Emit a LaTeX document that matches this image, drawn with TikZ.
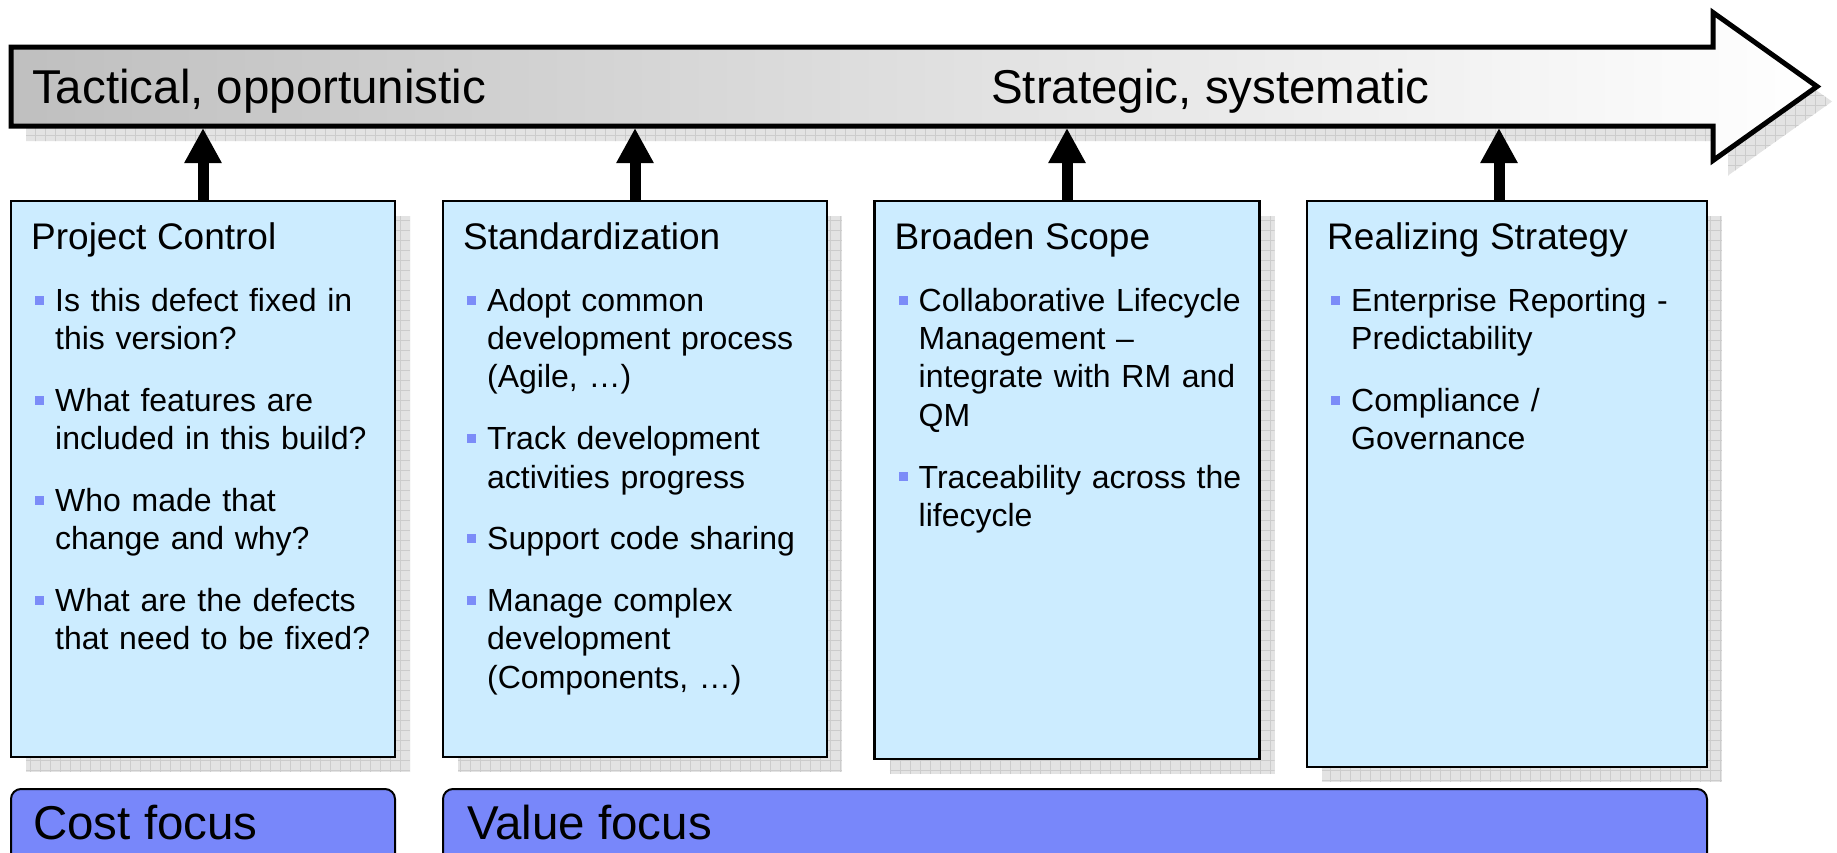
\documentclass[tikz,border=0pt]{standalone}
\usepackage{fontspec}
\setmainfont{Liberation Sans}
\usepackage{xcolor}
\usetikzlibrary{arrows.meta}
\usetikzlibrary{backgrounds}

\definecolor{boxblue}{HTML}{CCECFF}
\definecolor{focusblue}{HTML}{7887FA}
\definecolor{bulletblue}{HTML}{7C8CF8}

\newcommand{\boxtitle}[1]{{\fontsize{37}{44}\selectfont #1\par}}
\newcommand{\bitem}{\par\vspace{23.5pt}\hangindent=24pt\hangafter=0\noindent
  \llap{\textcolor{bulletblue}{\rule[6.7pt]{9pt}{9pt}}\hspace{11pt}}}

\tikzset{
  infobox/.style={draw, line width=2.5pt, fill=boxblue, anchor=north west,
    outer sep=0pt, inner sep=0pt, minimum width=384pt, minimum height=556pt},
  boxtext/.style={anchor=base west, inner sep=0pt, text width=370pt,
    font=\fontsize{32}{38.3}\selectfont},
  focusbar/.style={draw, line width=2pt, fill=focusblue, rounded corners=10pt,
    anchor=north west, outer sep=0pt, minimum height=100pt},
  bigtext/.style={anchor=base west, inner sep=0pt, font=\fontsize{47.5}{57}\selectfont},
  uparrow/.style={line width=11pt, -{Triangle[width=35pt,length=35pt]}},
  shadowgrid/.style={fill=gray!22, path picture={\draw[gray!40, line width=0.8pt]
    (path picture bounding box.south west) grid[step=10pt] (path picture bounding box.north east);}},
  timeline/.style={draw, line width=5pt, left color=gray!50, right color=white}
}

\begin{document}
\begin{tikzpicture}[x=1pt, y=-1pt]
	\useasboundingbox (0,0) rectangle (1837,852);
	\clip (0,0) rectangle (1837,852);

	% timeline
	\draw[timeline] (11,47) -- (1713,47) -- (1713,12.5) -- (1817,86.5)
		-- (1713,160.5) -- (1713,126) -- (11,126) -- cycle;
	\coordinate (tlbottom) at (0,128);
	\node[bigtext] (tactical) at (32,103) {Tactical, opportunistic};
	\node[bigtext] (strategic) at (991,103) {Strategic, systematic};

	% the four boxes
	\node[infobox] (pc) at (11,201) {};
	\node[infobox] (st) at (443,201) {};
	\node[infobox, minimum width=385pt, minimum height=558pt] (bs) at (874.5,201) {};
	\node[infobox, minimum width=400pt, minimum height=566pt] (rs) at (1307,201) {};

	\node[boxtext] (pctext) at ([shift={(20,48.5)}]pc.north west) {\boxtitle{Project Control}
		\bitem Is this defect fixed in\newline this version?
		\bitem What features are\newline included in this build?
		\bitem Who made that\newline change and why?
		\bitem What are the defects\newline that need to be fixed?\par};
	\node[boxtext] (sttext) at ([shift={(20,48.5)}]st.north west) {\boxtitle{Standardization}
		\bitem Adopt common\newline development process\newline (Agile, …)
		\bitem Track development\newline activities progress
		\bitem Support code sharing
		\bitem Manage complex\newline development\newline (Components, …)\par};
	\node[boxtext] (bstext) at ([shift={(20,48.5)}]bs.north west) {\boxtitle{Broaden Scope}
		\bitem Collaborative Lifecycle\newline Management –\newline integrate with RM and\newline QM
		\bitem Traceability across the\newline lifecycle\par};
	\node[boxtext] (rstext) at ([shift={(20,48.5)}]rs.north west) {\boxtitle{Realizing Strategy}
		\bitem Enterprise Reporting -\newline Predictability
		\bitem Compliance /\newline Governance\par};

	% arrows up to the timeline
	\coordinate (rsfoot) at ([xshift=-8pt]rs.north);
	\draw[uparrow] (pc.north) -- (pc.north |- tlbottom);
	\draw[uparrow] (st.north) -- (st.north |- tlbottom);
	\draw[uparrow] (bs.north) -- (bs.north |- tlbottom);
	\draw[uparrow] (rsfoot) -- (rsfoot |- tlbottom);

	% focus bars
	\node[focusbar, minimum width=384pt] (cost) at (11,789) {};
	\node[focusbar, minimum width=1264pt] (value) at (443,789) {};
	\node[bigtext] (costtext) at ([shift={(22,50)}]cost.north west) {Cost focus};
	\node[bigtext] (valuetext) at ([shift={(24,50)}]value.north west) {Value focus};

	% shadows
	\begin{scope}[on background layer]
		\fill[shadowgrid, shift={(15,15)}] (11,47) -- (1713,47) -- (1713,12.5) -- (1817,86.5)
			-- (1713,160.5) -- (1713,126) -- (11,126) -- cycle;
		\foreach \b in {pc,st,bs,rs}
			\fill[shadowgrid] ([shift={(15,15)}]\b.north west) rectangle ([shift={(15,15)}]\b.south east);
	\end{scope}
\end{tikzpicture}
\end{document}
